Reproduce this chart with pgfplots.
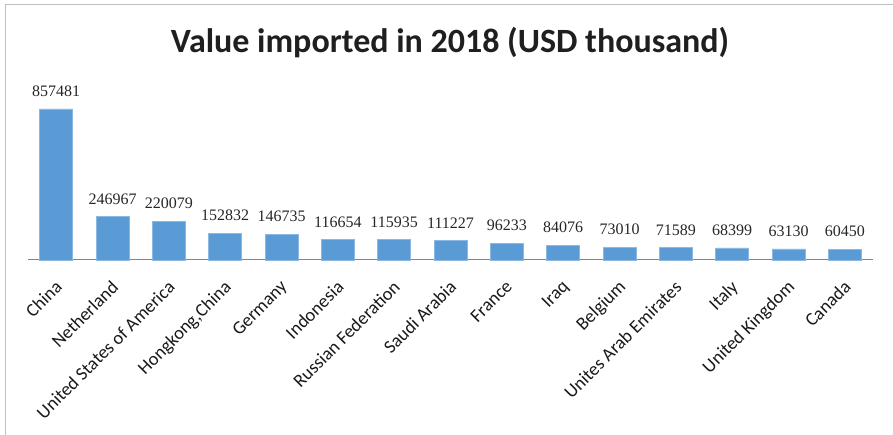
\documentclass[border=0pt]{standalone}
\usepackage{pgfplots}
\pgfplotsset{compat=1.18}
\usepackage{fontspec}
\setmainfont{Liberation Serif}
\newfontfamily\carlito{Carlito}
\definecolor{barblue}{HTML}{5B9BD5}
\definecolor{axgray}{HTML}{868686}
\definecolor{framegray}{HTML}{BFBFBF}
\begin{document}
\begin{tikzpicture}[x=1pt,y=1pt]
\useasboundingbox (0,0) rectangle (893,435);
\draw[framegray, line width=1pt] (5.5,0) -- (5.5,430.5) -- (893,430.5);
\node[font=\carlito\bfseries\fontsize{34}{38}\selectfont, text=black!88] at (450,392) {Value imported in 2018 (USD thousand)};
\begin{axis}[
 at={(28pt,175pt)}, anchor=south west,
 scale only axis, width=845pt, height=200pt,
 xmin=-0.5, xmax=14.5, ymin=0, ymax=1135736,
 axis x line=bottom, axis y line=none,
 x axis line style={-, axgray, line width=1pt},
 xtick=data,
 xticklabels={China,Netherland,United States of America,{Hongkong,China},Germany,Indonesia,Russian Federation,Saudi Arabia,France,Iraq,Belgium,Unites Arab Emirates,Italy,United Kingdom,Canada},
 major tick length=0,
 xticklabel style={rotate=45, anchor=north east, font=\carlito\fontsize{18.5}{21}\selectfont, inner sep=1pt, xshift=-14pt, yshift=-11pt, text=black!90},
 ybar, bar width=33pt,
 clip=false,
 point meta=explicit symbolic,
 nodes near coords,
 nodes near coords style={font=\fontsize{16}{19}\selectfont, anchor=south, inner sep=0pt, yshift=12pt, text=black!85},
]
\addplot[fill=barblue, draw=barblue!70!white] coordinates {
(0,857481) [857481]
(1,246967) [246967]
(2,220079) [220079]
(3,152832) [152832]
(4,146735) [146735]
(5,116654) [116654]
(6,115935) [115935]
(7,111227) [111227]
(8,96233) [96233]
(9,84076) [84076]
(10,73010) [73010]
(11,71589) [71589]
(12,68399) [68399]
(13,63130) [63130]
(14,60450) [60450]
};
\end{axis}
\end{tikzpicture}
\end{document}
